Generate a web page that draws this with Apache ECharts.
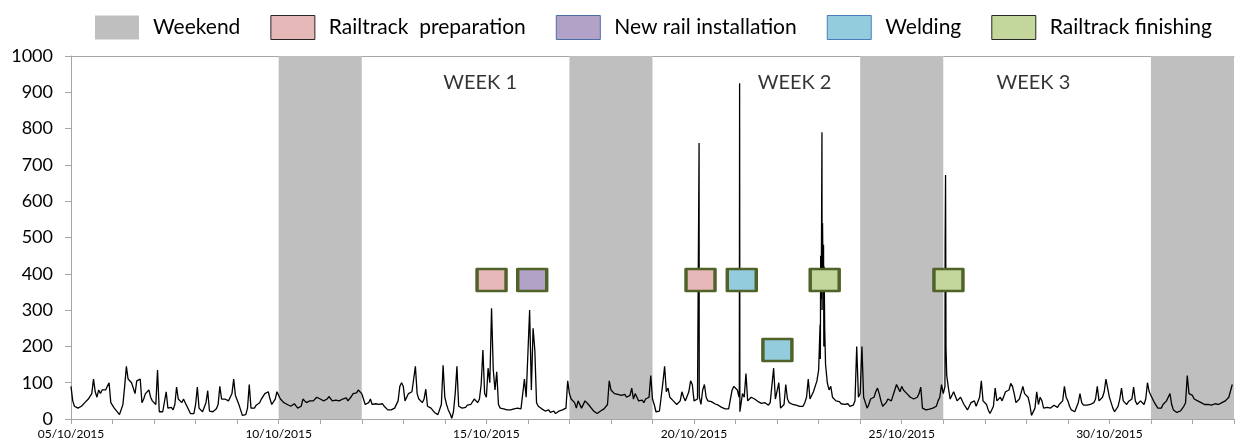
<!DOCTYPE html>
<html>
<head>
<meta charset="utf-8">
<script src="https://cdn.jsdelivr.net/npm/echarts@6/dist/echarts.min.js"></script>
<style>
  html, body { margin: 0; padding: 0; background: #fff; }
  #chart { width: 1237px; height: 443px; }
</style>
</head>
<body>
<div id="chart"></div>
<script>
// Time span of the record (axis runs from start to end, one tick per day)
const startDate = '05/10/2015';
const endDate = '02/11/2015';
const dateLabels = ['05/10/2015', '10/10/2015', '15/10/2015', '20/10/2015', '25/10/2015', '30/10/2015'];

// Hourly readings, one row of 24 values per day
const week0 = [ // 05/10 - 11/10
  [90,50,35,30,30,32,35,38,45,50,55,60,70,110,75,60,80,70,80,85,80,90,100,45],
  [40,30,25,18,12,15,40,90,145,110,115,100,95,70,105,100,110,45,55,70,65,80,60,50],
  [50,40,135,20,15,20,25,75,30,28,32,25,40,88,55,50,45,55,45,35,30,15,12,15],
  [40,88,30,25,20,25,45,78,22,18,20,22,28,40,90,55,60,55,58,50,60,70,110,65],
  [60,40,25,10,5,12,30,95,30,35,30,38,40,45,55,60,70,65,75,55,40,45,55,75],
  [75,55,50,45,42,40,38,35,32,42,36,30,28,35,55,50,45,42,50,55,50,52,60,55],
  [55,60,50,48,55,62,58,50,48,52,55,50,45,55,60,58,50,52,62,70,65,72,80,75]
];
const week1 = [ // 12/10 - 18/10
  [70,55,40,38,45,55,40,35,42,45,40,38,42,35,30,25,22,25,28,30,32,50,90,100],
  [90,50,55,70,65,75,80,145,70,55,50,45,55,82,35,35,30,25,18,15,12,15,40,148],
  [60,40,25,15,2,20,70,145,35,32,30,35,32,38,35,40,45,55,50,45,55,95,190,70],
  [60,140,100,305,135,80,130,40,30,32,28,30,25,28,25,30,28,25,30,25,28,30,110,60],
  [60,300,80,250,190,45,35,30,28,25,22,20,25,18,20,22,15,20,22,18,25,28,30,105],
  [70,55,60,45,30,50,55,30,35,50,55,40,35,28,22,18,15,18,22,25,28,32,40,105],
  [80,75,70,72,68,70,65,62,68,60,55,65,85,55,70,60,50,48,52,45,55,50,60,120]
];
const week2 = [ // 19/10 - 25/10
  [55,40,20,18,22,60,100,145,75,85,60,55,50,45,40,45,50,75,60,50,55,75,105,95],
  [50,45,55,70,40,80,95,60,50,45,48,45,42,40,38,35,32,30,28,30,28,25,80,90],
  [95,80,60,15,70,60,125,50,55,60,65,55,50,48,45,43,42,45,40,38,45,50,140,55],
  [55,100,30,25,40,95,55,45,50,40,45,38,42,35,40,35,45,60,110,55,60,75,80,105],
  [135,165,300,200,150,100,80,90,60,55,50,45,48,42,45,40,38,42,35,40,38,50,200,60],
  [70,200,60,45,30,40,55,50,60,75,85,70,50,35,30,45,55,60,50,65,80,95,85,75],
  [90,80,75,70,68,60,62,55,58,60,70,88,30,27,25,25,27,28,30,30,35,50,60,95]
];
const week3 = [ // 26/10 - 01/11
  [70,90,120,85,55,50,75,80,50,45,60,55,40,35,25,30,45,40,50,35,30,60,105,50],
  [50,40,25,15,25,35,85,50,55,60,50,55,75,70,80,98,90,70,45,40,55,60,90,70],
  [70,60,40,10,5,30,75,40,60,50,30,35,32,35,30,35,38,35,32,40,42,50,90,60],
  [50,35,25,22,20,25,45,70,45,38,35,38,35,40,38,45,55,90,50,55,60,75,110,85],
  [60,45,30,20,15,35,55,85,50,45,40,48,45,55,88,50,40,45,50,45,40,55,100,75],
  [65,55,45,40,30,25,30,40,45,50,60,70,40,25,20,18,20,22,25,35,45,120,70,65],
  [65,55,55,50,50,45,45,40,38,40,35,38,40,42,38,40,42,45,48,50,55,60,55,95]
];

// Short bursts recorded between the hourly readings
const bursts = [
  ['20/10/2015 02:45', 55], ['20/10/2015 02:55', 760], ['20/10/2015 03:05', 60],
  ['21/10/2015 02:10', 90], ['21/10/2015 02:20', 925], ['21/10/2015 02:30', 20],
  ['23/10/2015 00:50', 260], ['23/10/2015 01:10', 450], ['23/10/2015 01:30', 330],
  ['23/10/2015 01:55', 790], ['23/10/2015 02:15', 540], ['23/10/2015 02:35', 380],
  ['23/10/2015 02:50', 480], ['23/10/2015 03:10', 420], ['23/10/2015 03:30', 250],
  ['26/10/2015 01:05', 480], ['26/10/2015 01:20', 672], ['26/10/2015 01:35', 200]
];

// Weekends
const weekends = [
  ['10/10/2015', '12/10/2015'],
  ['17/10/2015', '19/10/2015'],
  ['24/10/2015', '26/10/2015'],
  ['31/10/2015', '02/11/2015']
];

// Work-week captions
const weekNames = ['WEEK 1', 'WEEK 2', 'WEEK 3'];
const weekNameAt = ['14/10/2015 20:25', '22/10/2015 10:05', '28/10/2015 04:05'];
const weekNameLevel = 928;

// Track works: [time, level of the marker]
const railPrep = [['15/10/2015 03:00', 383], ['20/10/2015 03:45', 383]];
const newRail = [['16/10/2015 02:30', 383]];
const welding = [['21/10/2015 03:35', 383], ['22/10/2015 00:10', 190]];
const finishing = [['23/10/2015 03:30', 383], ['26/10/2015 03:00', 383]];

// ---- helpers ----
const DAY = 86400000;
function parseStamp(s) {
  const [d, t] = s.split(' ');
  const [dd, mm, yy] = d.split('/').map(Number);
  const [hh, mi] = (t || '00:00').split(':').map(Number);
  return Date.UTC(yy, mm - 1, dd, hh, mi);
}
const t0 = parseStamp(startDate);
const toDay = s => (parseStamp(s) - t0) / DAY;
function dayToLabel(v) {
  const d = new Date(t0 + Math.round(v) * DAY);
  const p = n => String(n).padStart(2, '0');
  return p(d.getUTCDate()) + '/' + p(d.getUTCMonth() + 1) + '/' + d.getUTCFullYear();
}

const levelPoints = [];
[week0, week1, week2, week3].forEach((wk, w) => {
  wk.forEach((row, d) => {
    row.forEach((v, h) => levelPoints.push([w * 7 + d + h / 24, v]));
  });
});
bursts.forEach(([s, v]) => levelPoints.push([toDay(s), v]));
levelPoints.sort((a, b) => a[0] - b[0]);

const toPts = arr => arr.map(([s, v]) => [toDay(s), v]);

const FONT = 'Lato, "Open Sans", sans-serif';
const AXIS_GREY = '#A6A6A6';
const BOX_EDGE = '#4F6228';

function activity(name, color, data) {
  return {
    name, type: 'scatter', data: toPts(data),
    symbol: 'rect', symbolSize: [29, 22],
    itemStyle: { color, borderColor: BOX_EDGE, borderWidth: 3, borderJoin: 'round', opacity: 1 },
    z: 10, silent: true, animation: false
  };
}

const chart = echarts.init(document.getElementById('chart'), null, { renderer: 'canvas' });
chart.setOption({
  animation: false,
  grid: { left: 71, right: 0, top: 56, bottom: 24, containLabel: false },
  legend: {
    left: 90, top: 10,
    itemWidth: 44, itemHeight: 24, itemGap: 30,
    selectedMode: false,
    textStyle: { fontFamily: FONT, fontSize: 21, color: '#000', padding: [0, 0, 0, 9] },
    data: [
      { name: 'Weekend', icon: 'rect', itemStyle: { color: '#BFBFBF', borderWidth: 0 } },
      { name: 'Railtrack  preparation', icon: 'rect', itemStyle: { color: '#E6B9B8', borderColor: '#262626', borderWidth: 1 } },
      { name: 'New rail installation', icon: 'rect', itemStyle: { color: '#B3A2C7', borderColor: '#4A6FA5', borderWidth: 1 } },
      { name: 'Welding', icon: 'rect', itemStyle: { color: '#93CDDD', borderColor: '#4A7EBB', borderWidth: 1 } },
      { name: 'Railtrack finishing', icon: 'rect', itemStyle: { color: '#C3D69B', borderColor: '#262626', borderWidth: 1 } }
    ]
  },
  xAxis: [{
    type: 'value', min: 0, max: toDay(endDate), interval: 1,
    axisLine: { lineStyle: { color: AXIS_GREY, width: 1 } },
    axisTick: { length: 5, lineStyle: { color: AXIS_GREY } },
    splitLine: { show: false },
    axisLabel: {
      fontFamily: FONT, fontSize: 12, color: '#000', margin: 9,
      showMinLabel: true, showMaxLabel: true, hideOverlap: false,
      formatter: v => { const s = dayToLabel(v); return dateLabels.includes(s) ? s : ''; }
    }
  }, {
    type: 'value', position: 'top', min: 0, max: toDay(endDate),
    axisLine: { show: true, lineStyle: { color: AXIS_GREY, width: 1 } },
    axisTick: { show: false }, axisLabel: { show: false }, splitLine: { show: false }
  }],
  yAxis: {
    type: 'value', min: 0, max: 1000, interval: 100,
    axisLine: { show: true, lineStyle: { color: AXIS_GREY, width: 1 } },
    axisTick: { show: true, length: 6, lineStyle: { color: AXIS_GREY } },
    splitLine: { show: false },
    axisLabel: { fontFamily: FONT, fontSize: 18, color: '#000', margin: 18, formatter: v => String(v) }
  },
  series: [
    {
      name: 'Weekend', type: 'line', data: [], color: '#BFBFBF', silent: true,
      markArea: {
        silent: true,
        itemStyle: { color: '#BFBFBF', opacity: 1 },
        data: weekends.map(([a, b]) => [{ xAxis: toDay(a) }, { xAxis: toDay(b) }])
      },
      z: 1
    },
    {
      name: 'Level', type: 'line', data: levelPoints, showSymbol: false, symbol: 'none',
      lineStyle: { color: '#000', width: 1.3 }, itemStyle: { color: '#000' },
      z: 5, silent: true
    },
    activity('Railtrack  preparation', '#E6B9B8', railPrep),
    activity('New rail installation', '#B3A2C7', newRail),
    activity('Welding', '#93CDDD', welding),
    activity('Railtrack finishing', '#C3D69B', finishing),
    {
      name: 'weeks', type: 'scatter', symbolSize: 0, silent: true, z: 6,
      data: weekNames.map((n, i) => ({ value: [toDay(weekNameAt[i]), weekNameLevel], name: n })),
      label: {
        show: true, position: 'inside', formatter: p => p.name,
        fontFamily: FONT, fontSize: 20, color: '#000'
      }
    }
  ]
});
</script>
</body>
</html>
